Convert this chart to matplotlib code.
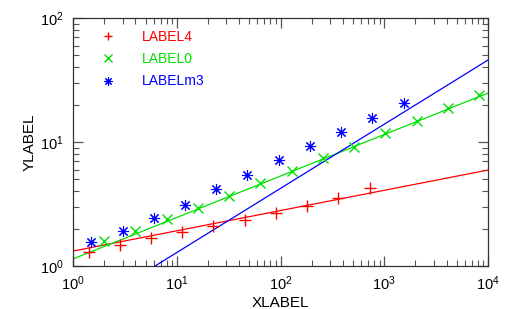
import matplotlib
matplotlib.use("Agg")
import matplotlib.pyplot as plt
from matplotlib.ticker import LogLocator, NullFormatter

plt.rcParams['font.family'] = ['Liberation Sans', 'DejaVu Sans']
plt.rcParams['mathtext.fontset'] = 'custom'
plt.rcParams['mathtext.rm'] = 'Liberation Sans'

# Series: LABEL4 (red, +)
x4 = [1.414, 2.83, 5.66, 11.3, 22.6, 45.3, 90.5, 181, 362, 724]
y4 = [1.30, 1.48, 1.68, 1.88, 2.10, 2.35, 2.68, 3.05, 3.53, 4.26]
fit4_x = [1, 1e4]
fit4_y = [1.32, 5.94]

# Series: LABEL0 (green, x)
x0 = [2, 4, 8, 16, 32, 64, 128, 256, 512, 1024, 2048, 4096, 8192]
y0 = [1.59, 1.92, 2.39, 2.94, 3.67, 4.67, 5.84, 7.43, 9.12, 11.8, 14.8, 18.8, 23.9]
fit0_x = [1, 1e4]
fit0_y = [1.14, 24.8]

# Series: LABELm3 (blue, asterisk)
xm3 = [1.5, 3, 6, 12, 24, 48, 96, 192, 384, 768, 1536]
ym3 = [1.56, 1.92, 2.44, 3.10, 4.18, 5.42, 7.16, 9.29, 12.0, 15.6, 20.6]
fitm3_x = [1, 1e4]
fitm3_y = [0.39, 45.8]

labels = ['LABEL4', 'LABEL0', 'LABELm3']
colors = ['#ff0000', '#00e000', '#0000ff']

fig = plt.figure(figsize=(5.11, 3.09), dpi=100)
ax = fig.add_axes([73/511, 1-266/309, (488-73)/511, (266-18)/309])

ax.plot(fit4_x, fit4_y, color=colors[0], lw=0.9)
ax.plot(fit0_x, fit0_y, color=colors[1], lw=0.9)
ax.plot(fitm3_x, fitm3_y, color=colors[2], lw=0.9)

h4, = ax.plot(x4, y4, ls='none', marker='+', ms=8, mew=1.0, color=colors[0])
h0, = ax.plot(x0, y0, ls='none', marker='x', ms=7, mew=1.0, color=colors[1])
hm3, = ax.plot(xm3, ym3, ls='none', marker=(8, 2, 0), ms=8, mew=0.8, color=colors[2])

ax.set_xscale('log')
ax.set_yscale('log')
ax.set_xlim(1, 1e4)
ax.set_ylim(1, 100)

ax.xaxis.set_major_locator(LogLocator(base=10, numticks=10))
ax.xaxis.set_minor_locator(LogLocator(base=10, subs=range(2, 10), numticks=100))
ax.yaxis.set_major_locator(LogLocator(base=10, numticks=10))
ax.yaxis.set_minor_locator(LogLocator(base=10, subs=range(2, 10), numticks=100))
ax.xaxis.set_minor_formatter(NullFormatter())
ax.yaxis.set_minor_formatter(NullFormatter())

ax.tick_params(which='both', direction='in', top=True, right=True, color='#555555')
ax.tick_params(which='major', length=7, width=0.9, labelsize=10.5, pad=6)
ax.tick_params(axis='y', which='major', pad=7)
ax.tick_params(which='minor', length=4, width=0.8)
for s in ax.spines.values():
    s.set_color('#333333')
    s.set_linewidth(0.9)

ax.set_xlabel('XLABEL', fontsize=11, labelpad=2)
ax.set_ylabel('YLABEL', fontsize=11, labelpad=2)

leg = ax.legend([h4, h0, hm3], labels, loc='upper left', frameon=False,
                markerscale=0.75, handlelength=1.0, handletextpad=1.9,
                labelspacing=0.6, fontsize=10, borderaxespad=0.0,
                bbox_to_anchor=(0.055, 0.975))
for t, c in zip(leg.get_texts(), colors):
    t.set_color(c)

fig.savefig('out.png', dpi=100)
